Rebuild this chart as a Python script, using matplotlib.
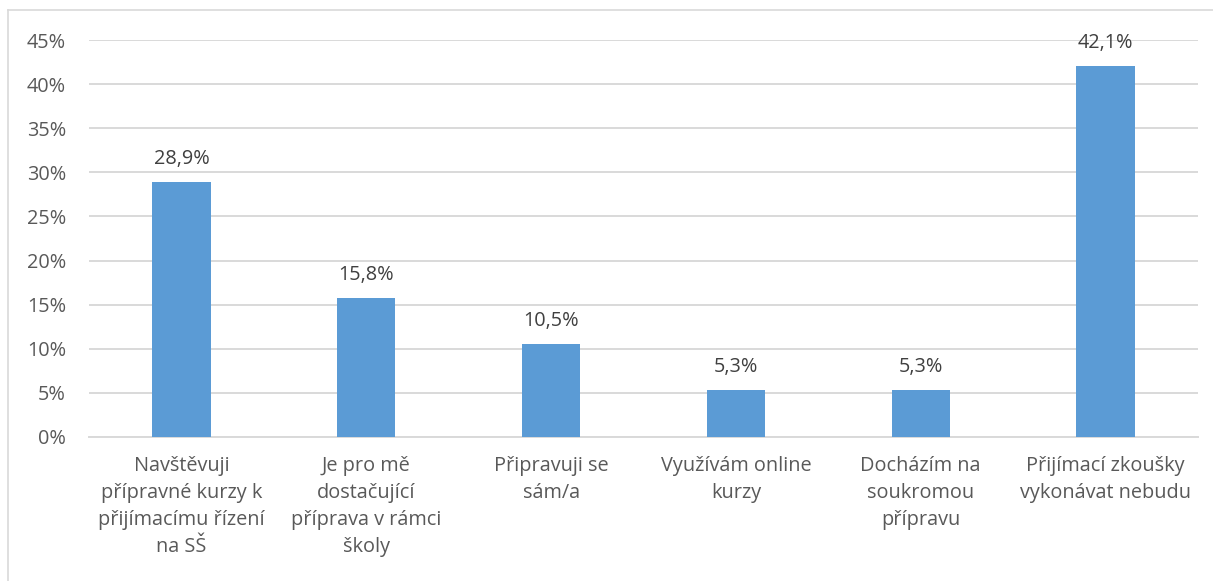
import matplotlib
matplotlib.use("Agg")
import matplotlib.pyplot as plt
from matplotlib.ticker import FuncFormatter
from matplotlib.lines import Line2D

categories = [
    "Navštěvuji\npřípravné kurzy k\npřijímacímu řízení\nna SŠ",
    "Je pro mě\ndostačující\npříprava v rámci\nškoly",
    "Připravuji se\nsám/a",
    "Využívám online\nkurzy",
    "Docházím na\nsoukromou\npřípravu",
    "Přijímací zkoušky\nvykonávat nebudu",
]
values = [28.9, 15.8, 10.5, 5.3, 5.3, 42.1]
yticks = [0, 5, 10, 15, 20, 25, 30, 35, 40, 45]

plt.rcParams['font.family'] = ['Open Sans', 'DejaVu Sans']
FS = 14.3

fig = plt.figure(figsize=(12.13, 5.81), dpi=100)
ax = fig.add_axes([89/1213, 1-437/581, 1109/1213, 397/581])

x = list(range(len(categories)))
ax.bar(x, values, width=0.315, color="#5B9BD5", zorder=3)

ax.set_xlim(-0.5, len(categories) - 0.5)
ax.set_ylim(0, 45)
ax.set_yticks(yticks)
ax.yaxis.set_major_formatter(FuncFormatter(lambda v, p: f"{int(v)}%"))
ax.grid(axis="y", color="#D9D9D9", linewidth=1.4, zorder=0)
for s in ["top", "right", "left"]:
    ax.spines[s].set_visible(False)
ax.spines["bottom"].set_color("#D9D9D9")
ax.spines["bottom"].set_linewidth(1.4)
ax.tick_params(axis="both", length=0, labelsize=FS, labelcolor="#595959")
ax.tick_params(axis="y", pad=16.5)
ax.tick_params(axis="x", pad=14)
ax.set_xticks(x)
ax.set_xticklabels(categories, linespacing=1.45)

for xi, v in zip(x, values):
    ax.annotate(f"{v:.1f}".replace(".", ",") + "%", (xi, v), xytext=(0, 13),
                textcoords="offset pixels",
                ha="center", va="bottom", fontsize=FS, color="#404040")

# partial border (left and top) of the chart frame
fig.add_artist(Line2D([8/1213, 8/1213], [0, 1-10/581], transform=fig.transFigure,
                      color="#D9D9D9", linewidth=1.2))
fig.add_artist(Line2D([8/1213, 1], [1-10/581, 1-10/581], transform=fig.transFigure,
                      color="#D9D9D9", linewidth=1.2))

fig.savefig("out.png", dpi=100)
